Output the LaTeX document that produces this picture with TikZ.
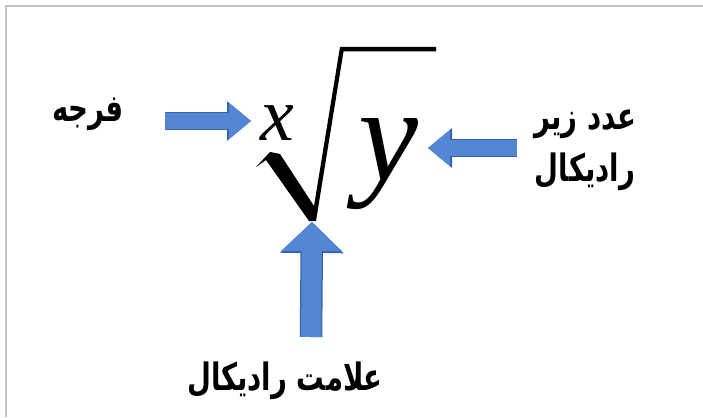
\documentclass[tikz,border=0pt]{standalone}
\usepackage{graphicx}
\usepackage{fontspec}
\setmainfont{Liberation Serif}
\newfontfamily\arabicfont[Script=Arabic]{DejaVu Sans}
\TeXXeTstate=1
\usetikzlibrary{arrows.meta}
\definecolor{arrowblue}{RGB}{83,134,212}
\definecolor{arrowedge}{RGB}{58,98,170}
\definecolor{framegray}{RGB}{195,195,195}
% tall, heavy right-to-left label text
\newcommand{\artext}[1]{\scalebox{0.95}[1.3]{\beginR #1\endR}}

\begin{document}
\begin{tikzpicture}[
  x=1pt, y=-1pt,
  label/.style={font={\arabicfont\bfseries\fontsize{29}{52}\selectfont}, align=center, inner sep=0pt},
  sym/.style={inner sep=0pt, anchor=base},
  pointer/.style={arrowblue, line width=16pt, shorten >=1pt, -{Triangle[width=35pt,length=22pt]},
    preaction={draw=arrowedge, line width=18.5pt, -{Triangle[width=38pt,length=24pt]}}},
  bigpointer/.style={arrowblue, line width=20pt, shorten >=1pt, -{Triangle[width=59pt,length=29pt]},
    preaction={draw=arrowedge, line width=22.5pt, -{Triangle[width=62pt,length=31pt]}}}
]
  \useasboundingbox (0,0) rectangle (703,417);
  \fill[white] (0,0) rectangle (703,417);
  % frame of the picture
  \draw[framegray, line width=2pt] (6,417) -- (6,6.5) -- (703,6.5);

  % labels
  \node[label] (farja) at (88,114) {\artext{فرجه}};
  \node[label] (radicand) at (585,150) {\artext{عدد زیر}\\ \artext{رادیکال}};
  \node[label] (radsign) at (285,381) {\artext{علامت رادیکال}};

  % the root x of y
  \node[sym, font={\itshape\fontsize{76}{80}\selectfont}] (index) at (277,140) {x};
  \node[sym, font={\itshape\fontsize{135}{140}\selectfont}] (under) at (388,180) {y};
  \coordinate (radbot) at (312,221);
  \fill (256,167) -- (270,152) -- (280,154) -- (314,206) -- (340,47) -- (436,47)
    -- (436,51.5) -- (343.5,51.5) -- (316,221) -- (309,221) -- (266,160) -- cycle;

  % arrows
  \coordinate (idxtail) at (165,121);
  \coordinate (idxtip) at (252,121);
  \coordinate (undtail) at (517,148);
  \coordinate (undtip) at (427,148);
  \coordinate (signtail) at (311,337);
  \draw[pointer] (idxtail) -- (idxtip);
  \draw[pointer] (undtail) -- (undtip);
  \draw[bigpointer] (signtail) -- (radbot);
\end{tikzpicture}
\end{document}
